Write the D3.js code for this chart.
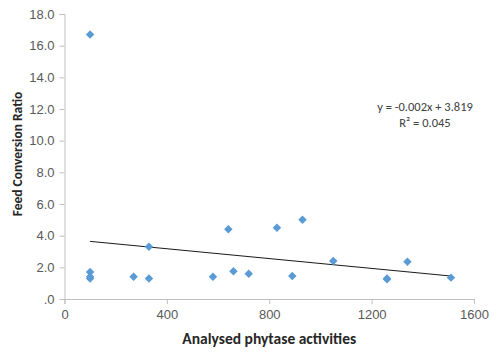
<!DOCTYPE html>
<html>
<head>
<meta charset="utf-8">
<script src="https://cdn.jsdelivr.net/npm/d3@7"></script>
<style>
  body { margin: 0; background: #fff; }
  svg { font-family: Calibri, Carlito, "Open Sans", "Liberation Sans", sans-serif; }
</style>
</head>
<body>
<svg id="chart" width="500" height="361"></svg>
<script>
// phytase activity vs feed conversion ratio
const phytase = [100, 100, 100, 100, 270, 330, 330, 580, 640, 660, 720, 830, 890, 930, 1050, 1260, 1260, 1340, 1510]
const fcr = [16.7, 1.7, 1.4, 1.3, 1.4, 3.3, 1.3, 1.4, 4.4, 1.75, 1.6, 4.5, 1.45, 5.0, 2.4, 1.3, 1.25, 2.35, 1.35]
const trendX = [100, 1510]
const trendY = [3.64, 1.45]
const xTicks = [0, 400, 800, 1200, 1600]
const yTicks = [0, 2, 4, 6, 8, 10, 12, 14, 16, 18]
const equation = ["y = -0.002x + 3.819", "R\u00b2 = 0.045"]

const svg = d3.select("#chart")
const margin = {top: 14, right: 26, bottom: 62, left: 64.5}
const width = +svg.attr("width")
const height = +svg.attr("height")

const x = d3.scaleLinear().domain([0, 1600]).range([margin.left, width - margin.right])
const y = d3.scaleLinear().domain([0, 18]).range([height - margin.bottom, margin.top])

const axisColor = "#bfbfbf"
const labelColor = "#595959"

// x-axis
const xAxis = svg.append("g")
  .attr("transform", `translate(0, ${y(0)})`)
  .call(d3.axisBottom(x).tickValues(xTicks).tickSize(5).tickPadding(6).tickFormat(d3.format("d")))
xAxis.select(".domain").attr("stroke", axisColor)
xAxis.selectAll(".tick line").attr("stroke", axisColor)
xAxis.selectAll("text").attr("fill", labelColor).attr("font-size", 13).attr("font-family", null)

// y-axis
const yAxis = svg.append("g")
  .attr("transform", `translate(${x(0)}, 0)`)
  .call(d3.axisLeft(y).tickValues(yTicks).tickSize(5).tickPadding(5)
    .tickFormat(d => d === 0 ? ".0" : d3.format(".1f")(d)))
yAxis.select(".domain").attr("stroke", axisColor)
yAxis.selectAll(".tick line").attr("stroke", axisColor)
yAxis.selectAll("text").attr("fill", labelColor).attr("font-size", 13).attr("font-family", null)

// trend line
svg.append("path")
  .datum(d3.zip(trendX, trendY))
  .attr("fill", "none")
  .attr("stroke", "#000")
  .attr("stroke-width", 0.9)
  .attr("d", d3.line().x(d => x(d[0])).y(d => y(d[1])))

// diamond markers
const diamond = d3.symbol().type(d3.symbolDiamond2).size(46)
svg.append("g")
  .selectAll("path")
  .data(d3.zip(phytase, fcr))
  .enter().append("path")
  .attr("transform", d => `translate(${x(d[0])}, ${y(d[1])})`)
  .attr("d", diamond)
  .attr("fill", "#5b9bd5")

// equation label
svg.append("g")
  .selectAll("text")
  .data(equation)
  .enter().append("text")
  .attr("x", 425)
  .attr("y", (d, i) => 111 + i * 16)
  .attr("text-anchor", "middle")
  .attr("font-size", 12.5)
  .attr("fill", "#404040")
  .text(d => d)

// axis titles
svg.append("text")
  .attr("x", (x(0) + x(1600)) / 2)
  .attr("y", 344)
  .attr("text-anchor", "middle")
  .attr("font-size", 15.5)
  .attr("font-weight", "bold")
  .attr("fill", "#262626")
  .text("Analysed phytase activities")

svg.append("text")
  .attr("transform", `translate(22, 154) rotate(-90)`)
  .attr("text-anchor", "middle")
  .attr("font-size", 13.5)
  .attr("font-weight", "bold")
  .attr("fill", "#262626")
  .text("Feed Conversion Ratio")
</script>
</body>
</html>
